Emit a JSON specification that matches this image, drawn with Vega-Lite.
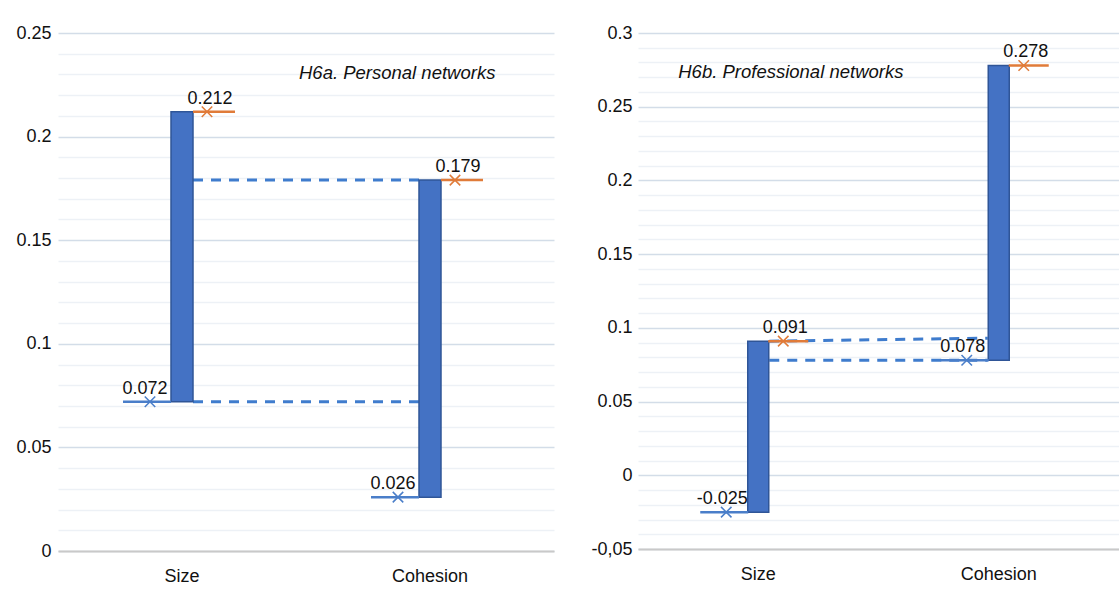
{
  "$schema": "https://vega.github.io/schema/vega-lite/v6.json",
  "background": "white",
  "padding": {"left": 15, "top": 24, "right": 0, "bottom": 0},
  "spacing": 36,
  "config": {
    "view": {"stroke": null},
    "font": "Liberation Sans",
    "axis": {"labelFont": "Liberation Sans", "labelColor": "#111111", "labelFontSize": 18}
  },
  "datasets": {
    "leftBars": [
      {"cat": "Size", "start": 0.072, "end": 0.212},
      {"cat": "Cohesion", "start": 0.026, "end": 0.179}
    ],
    "leftDash": [
      {"from": "Size", "to": "Cohesion", "y": 0.179, "y2": 0.179},
      {"from": "Size", "to": "Cohesion", "y": 0.072, "y2": 0.072}
    ],
    "rightBars": [
      {"cat": "Size", "start": -0.025, "end": 0.091},
      {"cat": "Cohesion", "start": 0.078, "end": 0.278}
    ],
    "rightDash": [
      {"from": "Size", "to": "Cohesion", "y": 0.091, "y2": 0.093},
      {"from": "Size", "to": "Cohesion", "y": 0.078, "y2": 0.078}
    ]
  },
  "hconcat": [
    {
      "width": 496,
      "height": 518,
      "layer": [
        {
          "data": {"name": "leftDash"},
          "mark": {"type": "rule", "strokeDash": [10, 8], "strokeWidth": 3, "color": "#3F7CCD", "xOffset": 11, "x2Offset": -11},
          "encoding": {
            "x": {"field": "from", "type": "nominal", "scale": {"domain": ["Size", "Cohesion"], "paddingInner": 0, "paddingOuter": 0},
              "axis": {"labelAngle": 0, "ticks": false, "domain": true, "domainColor": "#C9C9C9", "domainWidth": 2, "labelPadding": 16, "labelFontSize": 18, "title": null, "grid": false}},
            "x2": {"field": "to"},
            "y": {"field": "y", "type": "quantitative",
              "scale": {"domain": [0, 0.25], "nice": false, "zero": false},
              "axis": {
                "values": [0,0.01,0.02,0.03,0.04,0.05,0.06,0.07,0.08,0.09,0.1,0.11,0.12,0.13,0.14,0.15,0.16,0.17,0.18,0.19,0.2,0.21,0.22,0.23,0.24,0.25],
                "tickCount": 100,
                "grid": true,
                "gridColor": {"condition": {"test": "abs(round(datum.value*100)) % 5 == 0", "value": "#D3DDE8"}, "value": "#EDF1F6"},
                "gridWidth": 1.5,
                "ticks": false, "domain": false, "labelOverlap": false, "labelFontSize": 18,
                "labelExpr": "round(datum.value*100) % 5 == 0 ? toString(round(datum.value*100)/100) : ''",
                "labelPadding": 7, "title": null
              }},
            "y2": {"field": "y2"}
          }
        },
        {
          "data": {"name": "leftBars"},
          "mark": {"type": "bar", "width": 22, "color": "#4472C4", "stroke": "#2F5597", "strokeWidth": 1.5},
          "encoding": {
            "x": {"field": "cat", "type": "nominal"},
            "y": {"field": "start", "type": "quantitative"},
            "y2": {"field": "end"}
          }
        },
        {
          "data": {"name": "leftBars"},
          "mark": {"type": "tick", "size": 48, "thickness": 2.5, "color": "#4A7EC9", "xOffset": -35, "opacity": 1},
          "encoding": {
            "x": {"field": "cat", "type": "nominal"},
            "y": {"field": "start", "type": "quantitative"}
          }
        },
        {
          "data": {"name": "leftBars"},
          "mark": {"type": "tick", "size": 42, "thickness": 2.5, "color": "#E07B39", "xOffset": 32, "opacity": 1},
          "encoding": {
            "x": {"field": "cat", "type": "nominal"},
            "y": {"field": "end", "type": "quantitative"}
          }
        },
        {
          "data": {"name": "leftBars"},
          "mark": {"type": "point", "shape": "M-1,-1L1,1M-1,1L1,-1", "filled": false, "size": 110, "strokeWidth": 1.5, "color": "#4A7EC9", "xOffset": -32, "opacity": 1},
          "encoding": {
            "x": {"field": "cat", "type": "nominal"},
            "y": {"field": "start", "type": "quantitative"}
          }
        },
        {
          "data": {"name": "leftBars"},
          "mark": {"type": "point", "shape": "M-1,-1L1,1M-1,1L1,-1", "filled": false, "size": 110, "strokeWidth": 1.5, "color": "#E07B39", "xOffset": 25, "opacity": 1},
          "encoding": {
            "x": {"field": "cat", "type": "nominal"},
            "y": {"field": "end", "type": "quantitative"}
          }
        },
        {
          "data": {"name": "leftBars"},
          "mark": {"type": "text", "fontSize": 18, "baseline": "bottom", "dy": -4, "xOffset": -37, "color": "#111111"},
          "encoding": {
            "x": {"field": "cat", "type": "nominal"},
            "y": {"field": "start", "type": "quantitative"},
            "text": {"field": "start", "type": "nominal"}
          }
        },
        {
          "data": {"name": "leftBars"},
          "mark": {"type": "text", "fontSize": 18, "baseline": "bottom", "dy": -4, "xOffset": 28, "color": "#111111"},
          "encoding": {
            "x": {"field": "cat", "type": "nominal"},
            "y": {"field": "end", "type": "quantitative"},
            "text": {"field": "end", "type": "nominal"}
          }
        },
        {
          "data": {"values": [{"label": "H6a. Personal networks"}]},
          "mark": {"type": "text", "fontSize": 18.5, "fontStyle": "italic", "align": "left", "baseline": "middle", "xOffset": 117, "color": "#111111"},
          "encoding": {
            "x": {"datum": "Size", "type": "nominal"},
            "y": {"datum": 0.2305, "type": "quantitative"},
            "text": {"field": "label", "type": "nominal"}
          }
        }
      ]
    },
    {
      "width": 481,
      "height": 516,
      "layer": [
        {
          "data": {"name": "rightDash"},
          "mark": {"type": "rule", "strokeDash": [10, 8], "strokeWidth": 3, "color": "#3F7CCD", "xOffset": 11, "x2Offset": -11},
          "encoding": {
            "x": {"field": "from", "type": "nominal", "scale": {"domain": ["Size", "Cohesion"], "paddingInner": 0, "paddingOuter": 0},
              "axis": {"labelAngle": 0, "ticks": false, "domain": true, "domainColor": "#C9C9C9", "domainWidth": 2, "labelPadding": 16, "labelFontSize": 18, "title": null, "grid": false}},
            "x2": {"field": "to"},
            "y": {"field": "y", "type": "quantitative",
              "scale": {"domain": [-0.05, 0.3], "nice": false, "zero": false},
              "axis": {
                "values": [-0.05,-0.04,-0.03,-0.02,-0.01,0,0.01,0.02,0.03,0.04,0.05,0.06,0.07,0.08,0.09,0.1,0.11,0.12,0.13,0.14,0.15,0.16,0.17,0.18,0.19,0.2,0.21,0.22,0.23,0.24,0.25,0.26,0.27,0.28,0.29,0.3],
                "tickCount": 100,
                "grid": true,
                "gridColor": {"condition": {"test": "abs(round(datum.value*100)) % 5 == 0", "value": "#D3DDE8"}, "value": "#EDF1F6"},
                "gridWidth": 1.5,
                "ticks": false, "domain": false, "labelOverlap": false, "labelFontSize": 18,
                "labelExpr": "abs(round(datum.value*100)) % 5 == 0 ? (datum.value < 0 ? replace(toString(round(datum.value*100)/100), '.', ',') : toString(round(datum.value*100)/100)) : ''",
                "labelPadding": 6, "title": null
              }},
            "y2": {"field": "y2"}
          }
        },
        {
          "data": {"name": "rightBars"},
          "mark": {"type": "bar", "width": 21, "color": "#4472C4", "stroke": "#2F5597", "strokeWidth": 1.5},
          "encoding": {
            "x": {"field": "cat", "type": "nominal"},
            "y": {"field": "start", "type": "quantitative"},
            "y2": {"field": "end"}
          }
        },
        {
          "data": {"name": "rightBars"},
          "mark": {"type": "tick", "size": 48, "thickness": 2.5, "color": "#4A7EC9", "xOffset": -34, "opacity": 1},
          "encoding": {
            "x": {"field": "cat", "type": "nominal"},
            "y": {"field": "start", "type": "quantitative"}
          }
        },
        {
          "data": {"name": "rightBars"},
          "mark": {"type": "tick", "size": 40, "thickness": 2.5, "color": "#E07B39", "xOffset": 30, "opacity": 1},
          "encoding": {
            "x": {"field": "cat", "type": "nominal"},
            "y": {"field": "end", "type": "quantitative"}
          }
        },
        {
          "data": {"name": "rightBars"},
          "mark": {"type": "point", "shape": "M-1,-1L1,1M-1,1L1,-1", "filled": false, "size": 110, "strokeWidth": 1.5, "color": "#4A7EC9", "xOffset": -32, "opacity": 1},
          "encoding": {
            "x": {"field": "cat", "type": "nominal"},
            "y": {"field": "start", "type": "quantitative"}
          }
        },
        {
          "data": {"name": "rightBars"},
          "mark": {"type": "point", "shape": "M-1,-1L1,1M-1,1L1,-1", "filled": false, "size": 110, "strokeWidth": 1.5, "color": "#E07B39", "xOffset": 25, "opacity": 1},
          "encoding": {
            "x": {"field": "cat", "type": "nominal"},
            "y": {"field": "end", "type": "quantitative"}
          }
        },
        {
          "data": {"name": "rightBars"},
          "mark": {"type": "text", "fontSize": 18, "baseline": "bottom", "dy": -4, "xOffset": -36, "color": "#111111"},
          "encoding": {
            "x": {"field": "cat", "type": "nominal"},
            "y": {"field": "start", "type": "quantitative"},
            "text": {"field": "start", "type": "nominal"}
          }
        },
        {
          "data": {"name": "rightBars"},
          "mark": {"type": "text", "fontSize": 18, "baseline": "bottom", "dy": -4, "xOffset": 27, "color": "#111111"},
          "encoding": {
            "x": {"field": "cat", "type": "nominal"},
            "y": {"field": "end", "type": "quantitative"},
            "text": {"field": "end", "type": "nominal"}
          }
        },
        {
          "data": {"values": [{"label": "H6b. Professional networks"}]},
          "mark": {"type": "text", "fontSize": 18.5, "fontStyle": "italic", "align": "left", "baseline": "middle", "xOffset": -80, "color": "#111111"},
          "encoding": {
            "x": {"datum": "Size", "type": "nominal"},
            "y": {"datum": 0.2735, "type": "quantitative"},
            "text": {"field": "label", "type": "nominal"}
          }
        }
      ]
    }
  ]
}
